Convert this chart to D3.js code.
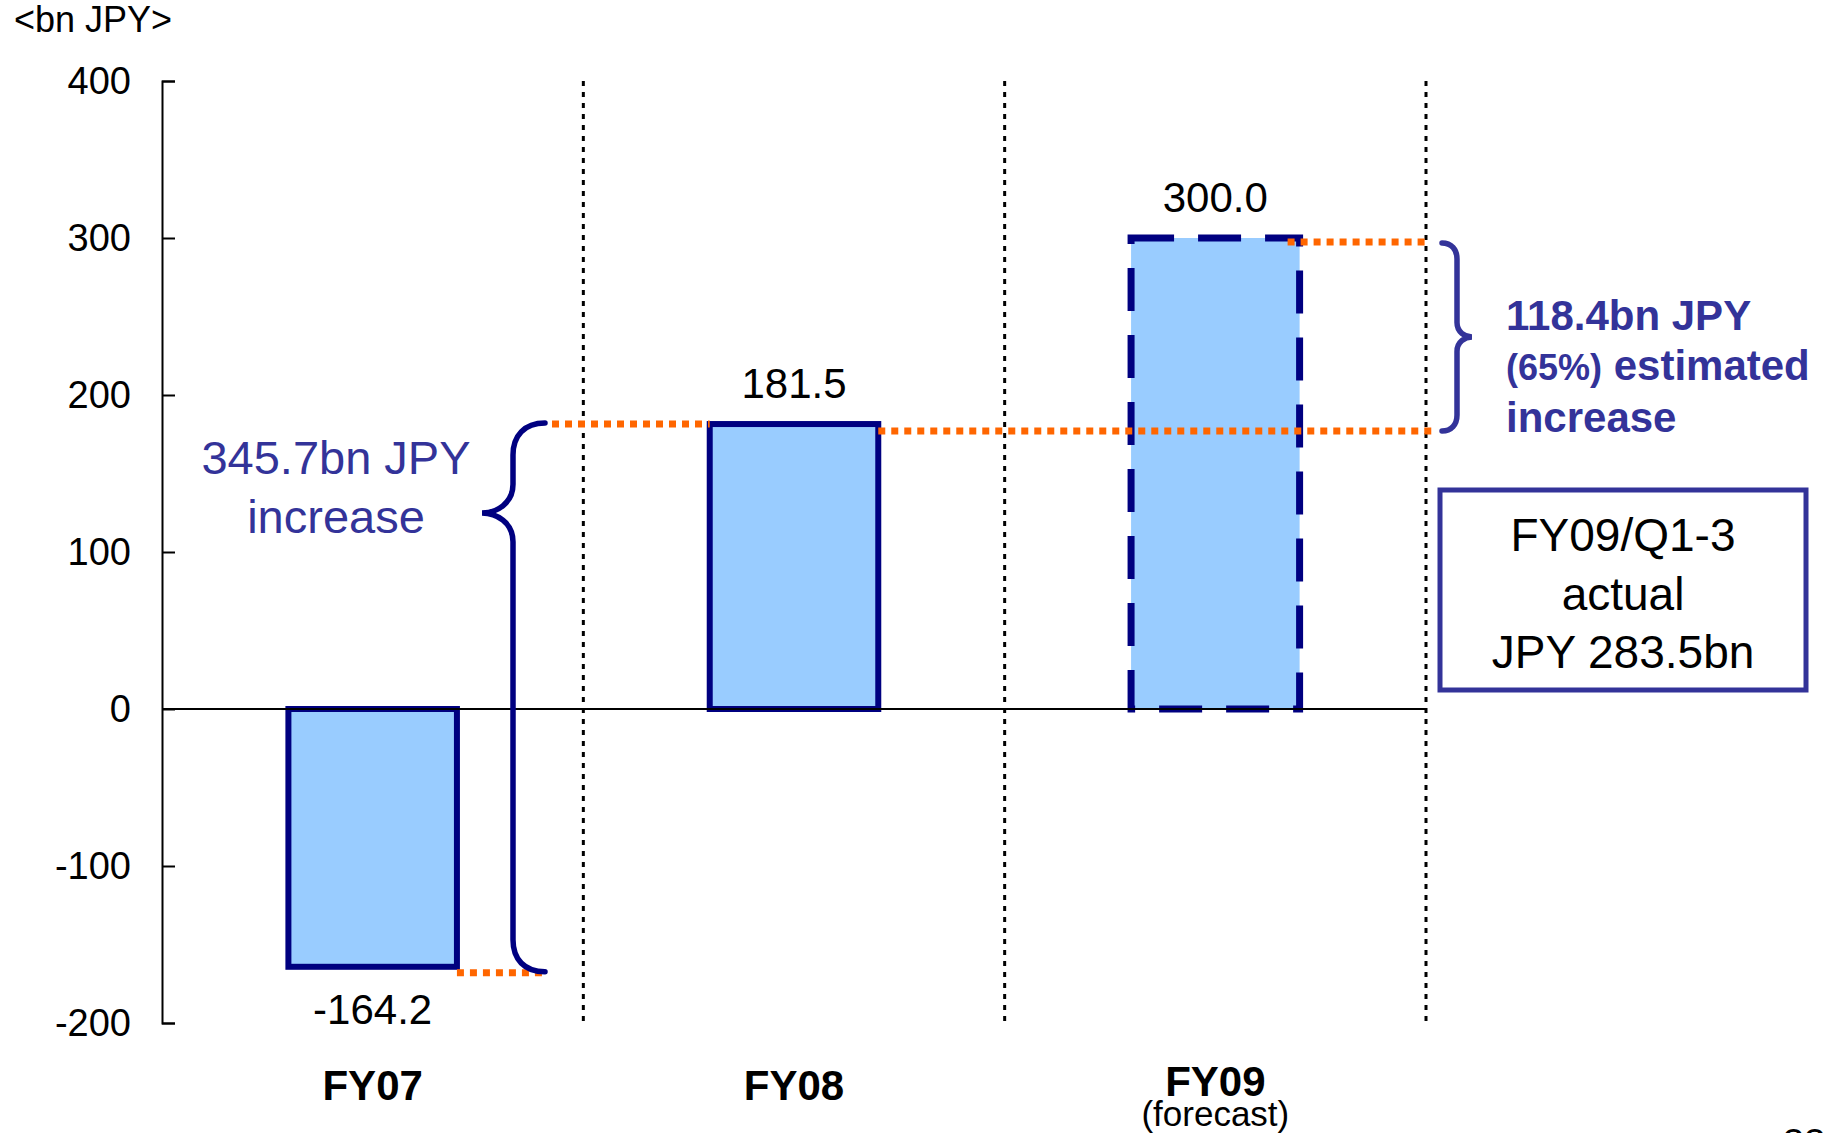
<!DOCTYPE html>
<html>
<head>
<meta charset="utf-8">
<script src="https://cdn.jsdelivr.net/npm/d3@7"></script>
<style>
  html, body { margin: 0; padding: 0; background: #ffffff; }
  svg { display: block; font-family: "Liberation Sans", Arial, sans-serif; }
</style>
</head>
<body>
<svg id="chart" width="1830" height="1133"></svg>
<script>
// Operating income by fiscal year (bn JPY)
const categories = ["FY07", "FY08", "FY09"];
const values = [-164.2, 181.5, 300.0];
const valueLabels = ["-164.2", "181.5", "300.0"];
const isForecast = [false, false, true];
const subLabels = ["", "", "(forecast)"];
const yTicks = [-200, -100, 0, 100, 200, 300, 400];
const unitLabel = "<bn JPY>";
const leftNote = ["345.7bn JPY", "increase"];
const rightNote = ["118.4bn JPY", "(65%)", " estimated", "increase"];
const boxLines = ["FY09/Q1-3", "actual", "JPY 283.5bn"];
const pageNo = "33";

const NAVY = "#000080";
const INDIGO = "#333399";
const ORANGE = "#FF6600";
const FILL = "#99CCFF";

const svg = d3.select("#chart");

const y = d3.scaleLinear().domain([-200, 400]).range([1023, 81]);
const x = d3.scaleBand().domain(categories).range([162, 1426]).padding(0);
const barW = x.bandwidth() * 0.40;
const cx = c => x(c) + x.bandwidth() / 2;

// unit caption
svg.append("text").attr("x", 14).attr("y", 32)
  .attr("font-size", 36).attr("fill", "#000").text(unitLabel);

// category separators (dotted)
const seps = categories.map(c => x(c) + x.bandwidth());
svg.append("g").selectAll("line").data(seps).join("line")
  .attr("x1", d => d).attr("x2", d => d)
  .attr("y1", y(400)).attr("y2", y(-200))
  .attr("stroke", "#000").attr("stroke-width", 3)
  .attr("stroke-dasharray", "5,6");

// y axis with inward ticks
const axis = d3.axisLeft(y).tickValues(yTicks)
  .tickSizeInner(-13).tickSizeOuter(-13).tickPadding(31)
  .tickFormat(d => String(d));
const gAxis = svg.append("g").attr("transform", `translate(${x.range()[0]},0)`).call(axis);
gAxis.select(".domain").attr("stroke", "#000").attr("stroke-width", 2);
gAxis.selectAll(".tick line").attr("stroke", "#000").attr("stroke-width", 2);
gAxis.selectAll(".tick text").attr("font-size", 38).attr("fill", "#000")
  .attr("font-family", "Liberation Sans, Arial, sans-serif");

// bars
const data = categories.map((c, i) => ({ c, v: values[i], f: isForecast[i], lbl: valueLabels[i], sub: subLabels[i] }));
svg.append("g").selectAll("rect").data(data).join("rect")
  .attr("x", d => cx(d.c) - barW / 2)
  .attr("width", barW)
  .attr("y", d => y(Math.max(0, d.v)))
  .attr("height", d => Math.abs(y(d.v) - y(0)))
  .attr("fill", FILL)
  .attr("stroke", NAVY)
  .attr("stroke-width", d => d.f ? 7 : 6)
  .attr("stroke-dasharray", d => d.f ? "43,24" : null);

// zero line
svg.append("line")
  .attr("x1", x.range()[0]).attr("x2", x.range()[1])
  .attr("y1", y(0)).attr("y2", y(0))
  .attr("stroke", "#000").attr("stroke-width", 2);

// orange guide lines, drawn over the bars
const guides = [
  { x1: cx("FY07") + barW / 2, x2: 547, v: values[0], off: 6 },
  { x1: 552, x2: cx("FY08") - barW / 2, v: values[1], off: 0 },
  { x1: cx("FY08") + barW / 2, x2: 1435, v: values[1], off: 7 },
  { x1: cx("FY09") + barW / 2 - 12, x2: 1427, v: values[2], off: 4 }
];
svg.append("g").selectAll("line").data(guides).join("line")
  .attr("x1", d => d.x1).attr("x2", d => d.x2)
  .attr("y1", d => y(d.v) + d.off).attr("y2", d => y(d.v) + d.off)
  .attr("stroke", ORANGE).attr("stroke-width", 7)
  .attr("stroke-dasharray", "7,6");

// value labels
svg.append("g").selectAll("text").data(data).join("text")
  .attr("x", d => cx(d.c))
  .attr("y", d => d.v >= 0 ? y(d.v) - 26 : y(d.v) + 57)
  .attr("text-anchor", "middle").attr("font-size", 42).attr("fill", "#000")
  .text(d => d.lbl);

// category labels
const gCat = svg.append("g");
gCat.selectAll("text.cat").data(data).join("text").attr("class", "cat")
  .attr("x", d => cx(d.c)).attr("y", d => d.sub ? 1096 : 1100)
  .attr("text-anchor", "middle").attr("font-size", 42).attr("font-weight", "bold")
  .attr("fill", "#000").text(d => d.c);
gCat.selectAll("text.sub").data(data.filter(d => d.sub)).join("text").attr("class", "sub")
  .attr("x", d => cx(d.c)).attr("y", 1126)
  .attr("text-anchor", "middle").attr("font-size", 35).attr("fill", "#000")
  .text(d => d.sub);

// curly braces
function bracePath(xv, y0, y1, yt, end, tip, r) {
  // xv: vertical stem, end: x of the two ends, tip: x of the point
  const s = Math.sign(end - xv);
  return `M${end},${y0}` +
    ` C${xv + s * r * 0.35},${y0} ${xv},${y0 + r * 0.4} ${xv},${y0 + r}` +
    ` L${xv},${yt - r * 0.9}` +
    ` C${xv},${yt - r * 0.3} ${tip + s * r * 0.45},${yt} ${tip},${yt}` +
    ` C${tip + s * r * 0.45},${yt} ${xv},${yt + r * 0.3} ${xv},${yt + r * 0.9}` +
    ` L${xv},${y1 - r}` +
    ` C${xv},${y1 - r * 0.4} ${xv + s * r * 0.35},${y1} ${end},${y1}`;
}
svg.append("path")
  .attr("d", bracePath(513, y(values[1]) - 1, y(values[0]) + 5, 513, 545, 482, 32))
  .attr("fill", "none").attr("stroke", NAVY).attr("stroke-width", 5.5)
  .attr("stroke-linecap", "round");
svg.append("path")
  .attr("d", bracePath(1457, y(values[2]) + 5, y(values[1]) + 7, 337, 1442, 1472, 16))
  .attr("fill", "none").attr("stroke", INDIGO).attr("stroke-width", 5.5)
  .attr("stroke-linecap", "round");

// left note
svg.append("g").selectAll("text").data(leftNote).join("text")
  .attr("x", 336).attr("y", (d, i) => 474 + i * 59)
  .attr("text-anchor", "middle").attr("font-size", 47).attr("fill", INDIGO)
  .text(d => d);

// right note
const rn = svg.append("g").attr("fill", INDIGO).attr("font-weight", "bold");
rn.append("text").attr("x", 1506).attr("y", 330).attr("font-size", 42).text(rightNote[0]);
const t2 = rn.append("text").attr("x", 1506).attr("y", 380);
t2.append("tspan").attr("font-size", 36).text(rightNote[1]);
t2.append("tspan").attr("font-size", 42).text(rightNote[2]);
rn.append("text").attr("x", 1506).attr("y", 432).attr("font-size", 42).text(rightNote[3]);

// actual-result box
svg.append("rect").attr("x", 1440).attr("y", 490).attr("width", 366).attr("height", 200)
  .attr("fill", "#fff").attr("stroke", INDIGO).attr("stroke-width", 5);
svg.append("g").selectAll("text").data(boxLines).join("text")
  .attr("x", 1623).attr("y", (d, i) => 551 + i * 58.5)
  .attr("text-anchor", "middle").attr("font-size", 46).attr("fill", "#000")
  .text(d => d);

// page number (runs off the bottom edge)
svg.append("text").attr("x", 1783).attr("y", 1156)
  .attr("font-size", 38).attr("fill", "#000").text(pageNo);
</script>
</body>
</html>
